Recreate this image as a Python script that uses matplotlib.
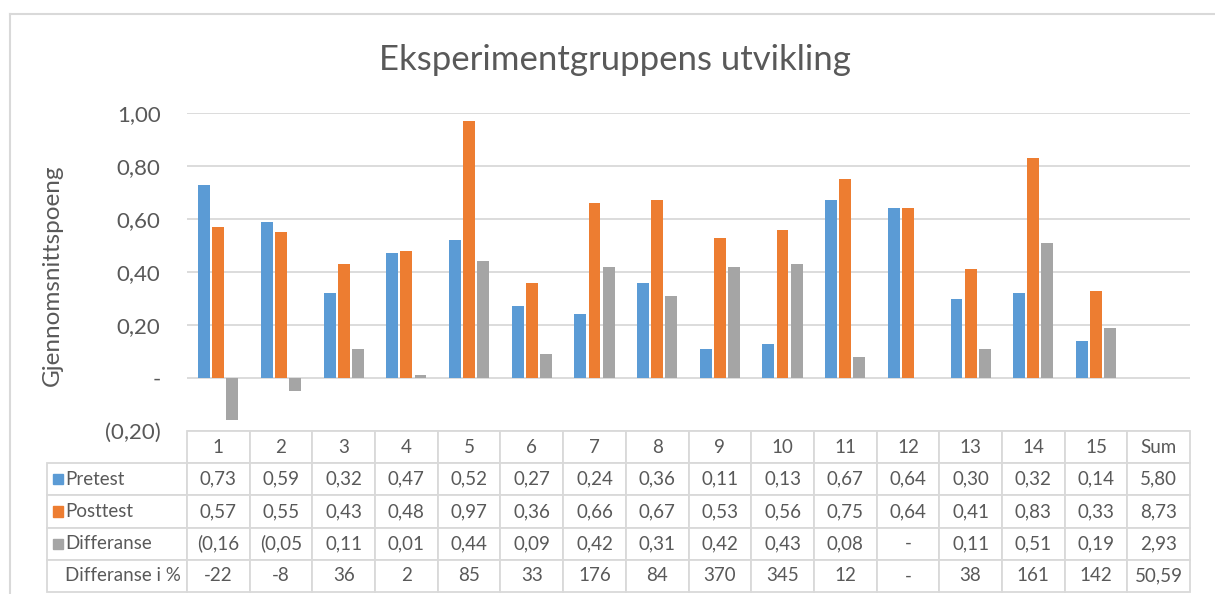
import matplotlib.pyplot as plt
from matplotlib.patches import Rectangle
from matplotlib.lines import Line2D
from matplotlib.table import Table
import numpy as np

plt.rcParams['font.family'] = ['Lato', 'DejaVu Sans']

# data
categories = [str(i) for i in range(1, 16)] + ['Sum']
pretest = [0.73, 0.59, 0.32, 0.47, 0.52, 0.27, 0.24, 0.36, 0.11, 0.13, 0.67, 0.64, 0.30, 0.32, 0.14]
posttest = [0.57, 0.55, 0.43, 0.48, 0.97, 0.36, 0.66, 0.67, 0.53, 0.56, 0.75, 0.64, 0.41, 0.83, 0.33]
differanse = [-0.16, -0.05, 0.11, 0.01, 0.44, 0.09, 0.42, 0.31, 0.42, 0.43, 0.08, 0.0, 0.11, 0.51, 0.19]
diff_pct = [-22, -8, 36, 2, 85, 33, 176, 84, 370, 345, 12, None, 38, 161, 142]
sums = [5.80, 8.73, 2.93]
sum_pct = 50.59

series_names = ['Pretest', 'Posttest', 'Differanse']
colors = ['#5B9BD5', '#ED7D31', '#A5A5A5']
txt = '#595959'
grid = '#D9D9D9'


def fmt(v):
    # Excel accounting format (the cell cuts off the closing bracket)
    if v == 0:
        return '-'
    s = f'{abs(v):.2f}'.replace('.', ',')
    return '(' + s if v < 0 else s


def fmt_pct(v):
    return '-' if v is None else str(v)


fig = plt.figure(figsize=(12.15, 5.94), dpi=100)
W, H = 1215, 594
ax_l, ax_r, ax_t, ax_b = 187, 1190, 113, 431
ax = fig.add_axes([ax_l / W, 1 - ax_b / H, (ax_r - ax_l) / W, (ax_b - ax_t) / H])

x = np.arange(len(pretest))
bw = 0.19
step = 0.225
for k, vals in enumerate([pretest, posttest, differanse]):
    ax.bar(x + (k - 1) * step, vals, width=bw, color=colors[k], zorder=3)

ax.set_xlim(-0.5, len(categories) - 0.5)
ax.set_ylim(-0.2, 1.0)
ax.set_yticks([-0.2, 0, 0.2, 0.4, 0.6, 0.8, 1.0])
ax.set_yticklabels(['(0,20)', '-', '0,20', '0,40', '0,60', '0,80', '1,00'])
ax.set_xticks([])
ax.tick_params(axis='y', length=0, pad=19, labelsize=16, labelcolor=txt)
ax.yaxis.grid(True, color=grid, linewidth=1.3, zorder=0)
for s in ax.spines.values():
    s.set_visible(False)

ax.set_ylabel('Gjennomsnittspoeng', fontsize=17.5, color=txt)
ax.yaxis.set_label_coords((63 - ax_l) / (ax_r - ax_l), 0.49)

# data table under the plot
cell_text = [
    [fmt(v) for v in pretest] + [fmt(sums[0])],
    [fmt(v) for v in posttest] + [fmt(sums[1])],
    [fmt(v) for v in differanse] + [fmt(sums[2])],
    [fmt_pct(v) for v in diff_pct] + [f'{sum_pct:.2f}'.replace('.', ',')],
]
row_labels = series_names + ['Differanse i %']

lab_px = 140
bh = (592 - ax_b) / (ax_b - ax_t)
row_h = bh / 5
col_w = 1.0 / len(categories)
lab_w = lab_px / (ax_r - ax_l)

# built cell by cell so the row label column keeps its fixed width
table = Table(ax, loc='bottom')
for j, cat in enumerate(categories):
    table.add_cell(0, j, col_w, row_h, text=cat, loc='center')
for i, row in enumerate(cell_text):
    cell = table.add_cell(i + 1, -1, lab_w, row_h, text=row_labels[i], loc='left')
    cell.PAD = 18 / lab_px
    for j, s in enumerate(row):
        table.add_cell(i + 1, j, col_w, row_h, text=s, loc='center')
table.auto_set_font_size(False)
for cell in table.get_celld().values():
    cell.set_edgecolor(grid)
    cell.set_linewidth(1.3)
    cell.get_text().set_color(txt)
    cell.get_text().set_fontsize(13.5)
ax.add_table(table)

# legend keys inside the row labels
for k in range(3):
    yc = -row_h * (k + 1.5)
    ax.add_patch(Rectangle(((53 - ax_l) / (ax_r - ax_l), yc - 0.016), 10 / (ax_r - ax_l), 0.032,
                           transform=ax.transAxes, color=colors[k], clip_on=False))

fig.text(615 / W, 1 - 60 / H, 'Eksperimentgruppens utvikling', ha='center', va='center',
         fontsize=25, color=txt)

# chart area border
fig.add_artist(Line2D([10 / W, 1], [1 - 14 / H] * 2, color=grid, linewidth=1.5))
fig.add_artist(Line2D([10 / W] * 2, [0, 1 - 14 / H], color=grid, linewidth=1.5))

fig.savefig('out.png', dpi=100, facecolor='white')
